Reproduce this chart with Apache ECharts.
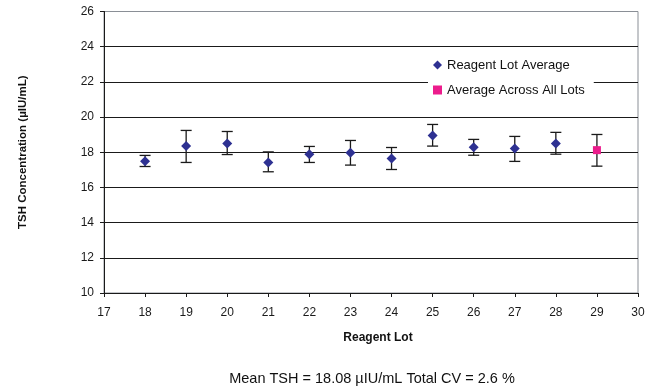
<!DOCTYPE html>
<html><head><meta charset="utf-8">
<script src="https://cdn.jsdelivr.net/npm/echarts@6/dist/echarts.min.js"></script>
<style>html,body{margin:0;padding:0;background:#fff}#c{width:657px;height:387px}</style>
</head><body><div id="c"></div>
<script>
// Data
const lots = [18, 19, 20, 21, 22, 23, 24, 25, 26, 27, 28];
const lotMeans = [17.49, 18.35, 18.50, 17.42, 17.89, 17.97, 17.65, 18.95, 18.29, 18.22, 18.50];
const lotUpper = [17.82, 19.24, 19.18, 18.02, 18.33, 18.67, 18.27, 19.58, 18.73, 18.90, 19.13];
const lotLower = [17.19, 17.42, 17.87, 16.89, 17.42, 17.27, 17.02, 18.35, 17.83, 17.48, 17.89];
const overallLot = [29];
const overallMean = [18.12];
const overallUpper = [19.01];
const overallLower = [17.21];
const yTicks = [10, 12, 14, 16, 18, 20, 22, 24, 26];

const font = '"Liberation Sans", Arial, Helvetica, sans-serif';
const errData = lots.map((x, i) => [x, lotLower[i], lotUpper[i]])
  .concat(overallLot.map((x, i) => [x, overallLower[i], overallUpper[i]]));

const chart = echarts.init(document.getElementById('c'), null, {renderer: 'canvas'});
chart.setOption({
  animation: false,
  backgroundColor: '#fff',
  textStyle: {fontFamily: font},
  grid: {left: 104, right: 19, top: 11.5, bottom: 94, show: true, borderColor: '#8a8f96', borderWidth: 1, backgroundColor: 'transparent'},
  title: {
    text: 'Mean TSH = 18.08 µIU/mL Total CV = 2.6 %',
    left: 372, top: 371, textAlign: 'center', padding: 0,
    textStyle: {fontFamily: font, fontSize: 14.5, fontWeight: 'normal', color: '#111'}
  },
  legend: {
    orient: 'vertical', left: 428, top: 50,
    padding: [8, 9, 8, 5],
    backgroundColor: '#fff',
    itemWidth: 9, itemHeight: 9, itemGap: 11,
    textStyle: {fontFamily: font, fontSize: 13, color: '#111', lineHeight: 14},
    data: [
      {name: 'Reagent Lot Average', icon: 'diamond'},
      {name: 'Average Across All Lots', icon: 'rect'}
    ]
  },
  xAxis: {
    type: 'value', min: 17, max: 30, interval: 1,
    name: 'Reagent Lot', nameLocation: 'middle', nameGap: 39,
    nameTextStyle: {fontFamily: font, fontSize: 12, fontWeight: 'bold', color: '#111', padding: [0, 0, 0, 14]},
    axisLine: {show: true, onZero: false, lineStyle: {color: '#1a1a1a', width: 1}},
    axisTick: {show: true, length: 4, lineStyle: {color: '#1a1a1a'}},
    axisLabel: {fontFamily: font, fontSize: 12, color: '#1a1a1a', margin: 14},
    splitLine: {show: false}
  },
  yAxis: {
    type: 'value', min: 10, max: 26, interval: 2,
    name: 'TSH Concentration (µIU/mL)', nameLocation: 'middle', nameGap: 75, nameRotate: 90,
    nameTextStyle: {fontFamily: font, fontSize: 11.5, fontWeight: 'bold', color: '#111'},
    axisLine: {show: true, lineStyle: {color: '#1a1a1a', width: 1}},
    axisTick: {show: true, length: 4, lineStyle: {color: '#1a1a1a'}},
    axisLabel: {fontFamily: font, fontSize: 12, color: '#1a1a1a', margin: 10},
    splitLine: {show: true, lineStyle: {width: 1, color: yTicks.map((v, i) => i === yTicks.length - 1 ? '#8a8f96' : '#1a1a1a')}}
  },
  series: [
    {
      type: 'custom', name: 'err', silent: true, z: 3,
      data: errData,
      renderItem: function (params, api) {
        const x = api.value(0);
        const lo = api.coord([x, api.value(1)]);
        const hi = api.coord([x, api.value(2)]);
        const hw = 5.5;
        const st = {stroke: '#1a1a1a', lineWidth: 1.3, fill: null};
        return {type: 'group', children: [
          {type: 'line', shape: {x1: lo[0], y1: lo[1], x2: hi[0], y2: hi[1]}, style: st},
          {type: 'line', shape: {x1: lo[0] - hw, y1: lo[1], x2: lo[0] + hw, y2: lo[1]}, style: st},
          {type: 'line', shape: {x1: hi[0] - hw, y1: hi[1], x2: hi[0] + hw, y2: hi[1]}, style: st}
        ]};
      }
    },
    {
      type: 'scatter', name: 'Reagent Lot Average', z: 5,
      symbol: 'diamond', symbolSize: 10,
      itemStyle: {color: '#2e3192', opacity: 1},
      data: lots.map((x, i) => [x, lotMeans[i]])
    },
    {
      type: 'scatter', name: 'Average Across All Lots', z: 5,
      symbol: 'rect', symbolSize: 8,
      itemStyle: {color: '#ec1c8c', opacity: 1},
      data: overallLot.map((x, i) => [x, overallMean[i]])
    }
  ]
});
</script></body></html>
